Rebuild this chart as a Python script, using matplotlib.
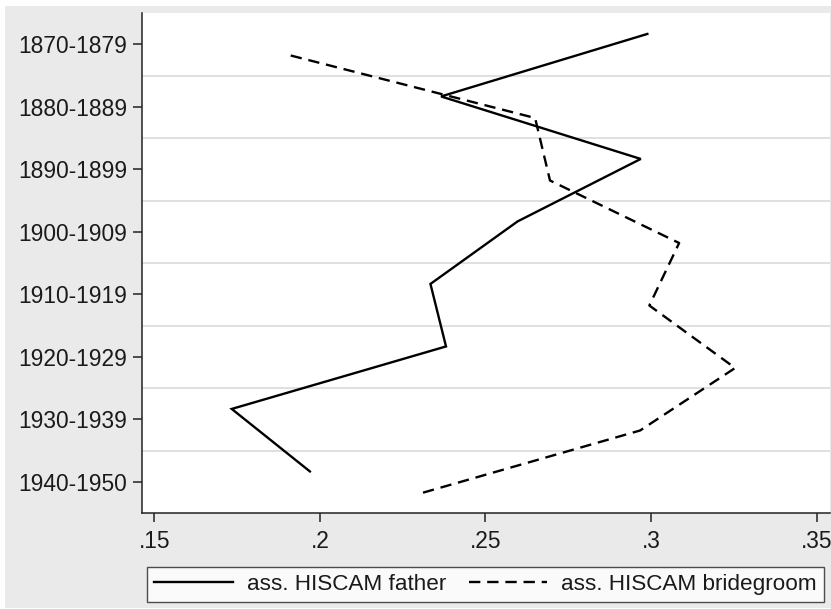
import matplotlib
matplotlib.use("Agg")
import matplotlib.pyplot as plt
from matplotlib.patches import Rectangle

# ---- data ----
categories = ["1870-1879", "1880-1889", "1890-1899", "1900-1909",
              "1910-1919", "1920-1929", "1930-1939", "1940-1950"]
father = [0.2989, 0.2366, 0.2969, 0.2597, 0.2334, 0.2381, 0.1734, 0.1970]
bridegroom = [0.1912, 0.2650, 0.2695, 0.3085, 0.2995, 0.3254, 0.2967, 0.2308]
father_offset = -0.165
bridegroom_offset = 0.18
xticks = [0.15, 0.20, 0.25, 0.30, 0.35]
xticklabels = [".15", ".2", ".25", ".3", ".35"]
series_labels = ["ass. HISCAM father", "ass. HISCAM bridegroom"]

plt.rcParams['font.family'] = ['Liberation Sans', 'DejaVu Sans']

W, H = 831, 609
fig = plt.figure(figsize=(W / 100, H / 100), dpi=100, facecolor="white")
bg = "#eaeaea"
fig.patches.append(Rectangle((5 / W, 1 / H), 1 - 5 / W, 1 - 7 / H,
                             transform=fig.transFigure, facecolor=bg,
                             edgecolor="none", zorder=-10))

ax = fig.add_axes([142 / W, 1 - 513 / H, (829.5 - 142) / W, (513 - 13) / H])
ax.set_facecolor("white")

pos = list(range(len(categories)))
yf = [p + father_offset for p in pos]
yb = [p + bridegroom_offset for p in pos]

lf, = ax.plot(father, yf, color="black", lw=1.7, solid_joinstyle="miter")
lb, = ax.plot(bridegroom, yb, color="black", lw=1.7, linestyle=(0, (4.8, 2.9)))

ax.set_xlim(0.1463, 0.3539)
ax.set_ylim(len(categories) - 0.5, -0.5)

ax.set_yticks(pos)
ax.set_yticklabels(categories)
ax.set_yticks([p + 0.5 for p in pos[:-1]], minor=True)
ax.grid(True, which="minor", axis="y", color="#dddddd", lw=1.3)
ax.tick_params(axis="y", which="minor", length=0)
ax.set_xticks(xticks)
ax.set_xticklabels(xticklabels)
ax.set_axisbelow(True)

ax.tick_params(axis="both", which="major", labelsize=16.4, length=6.5,
               width=1.1, color="#222222", labelcolor="#1a1a1a")
ax.tick_params(axis="y", which="major", pad=4)
ax.tick_params(axis="x", which="major", pad=6)

for s in ["top", "right"]:
    ax.spines[s].set_visible(False)
for s in ["left", "bottom"]:
    ax.spines[s].set_color("#222222")
    ax.spines[s].set_linewidth(1.1)

leg = fig.legend([lf, lb], series_labels, loc="center",
                 bbox_to_anchor=((149 + 822) / 2 / W, 1 - 584.5 / H),
                 ncol=2, fontsize=16.2, frameon=True, fancybox=False,
                 handlelength=3.5, handletextpad=0.62, columnspacing=1.0,
                 borderpad=0.33)
fr = leg.get_frame()
fr.set_edgecolor("#222222")
fr.set_linewidth(1.0)
fr.set_facecolor("white")
for t in leg.get_texts():
    t.set_color("#1a1a1a")

fig.savefig("out.png", dpi=100, facecolor=fig.get_facecolor())
